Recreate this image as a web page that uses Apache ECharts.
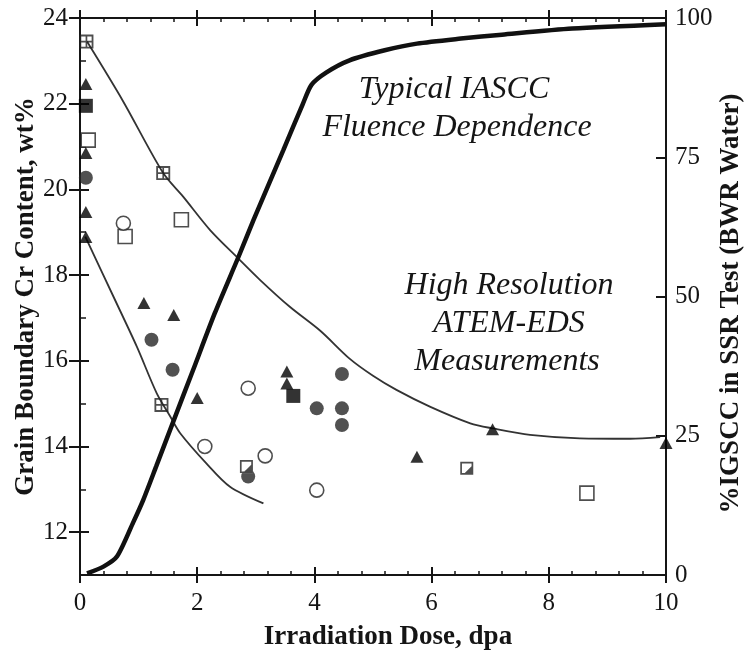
<!DOCTYPE html>
<html><head><meta charset="utf-8">
<script src="https://cdn.jsdelivr.net/npm/echarts@6/dist/echarts.min.js"></script>
<style>html,body{margin:0;padding:0;background:#fff}#c{width:744px;height:651px}</style>
</head><body><div id="c"></div>
<script>
// ---- tick values ----
const xTicksInterval = 2;
const leftTicks = [12, 14, 16, 18, 20, 22, 24];
const leftMinor = [13, 15, 17, 19, 21, 23];
const rightTicks = [0, 25, 50, 75, 100];

// ---- curves (x = dose dpa, y = Cr wt% or %IGSCC) ----
const upperCurve = [[0.12, 23.45], [0.73, 22.07], [1.42, 20.38], [1.76, 19.83], [2.22, 19.05], [2.7, 18.39], [3.07, 17.89], [3.58, 17.26], [4.1, 16.7], [4.6, 16.05], [5.0, 15.65], [5.4, 15.32], [5.97, 14.93], [6.66, 14.54], [7.05, 14.42], [7.68, 14.27], [8.53, 14.19], [9.39, 14.18], [9.9, 14.22]];
const lowerCurve = [[0.09, 18.9], [0.57, 17.5], [0.97, 16.33], [1.31, 15.24], [1.54, 14.7], [1.71, 14.31], [2.16, 13.6], [2.56, 13.06], [3.13, 12.67]];
const iasccCurve = [[0.12, 0.3], [0.4, 1.5], [0.63, 3.3], [0.91, 9.5], [1.08, 13.5], [1.3, 19.5], [1.59, 27.5], [1.93, 36.8], [2.3, 47], [2.7, 57], [2.96, 63.7], [3.47, 76.3], [3.8, 84.5], [3.95, 88], [4.2, 90.2], [4.6, 92.4], [5.2, 94.2], [5.75, 95.4], [6.5, 96.3], [7.2, 97], [8.4, 98.1], [10.0, 98.9]];

// ---- measurements (dose, Cr wt%) ----
const filledTriangles = [[0.1, 22.46], [0.1, 20.85], [0.1, 19.47], [0.1, 18.89], [1.09, 17.35], [1.6, 17.07], [2.0, 15.13], [3.53, 15.75], [3.53, 15.47], [5.75, 13.76], [7.04, 14.4], [10.0, 14.08]];
const filledCircles = [[0.1, 20.27], [1.22, 16.49], [1.58, 15.79], [2.87, 13.3], [4.47, 15.69], [4.04, 14.89], [4.47, 14.89], [4.47, 14.5]];
const filledSquares = [[0.1, 21.95], [3.64, 15.18]];
const openSquares = [[0.14, 21.15], [0.77, 18.9], [1.73, 19.29], [8.65, 12.91]];
const openCircles = [[0.74, 19.21], [2.87, 15.36], [2.13, 14.0], [3.16, 13.78], [4.04, 12.98]];
const crossedSquares = [[0.11, 23.45], [1.42, 20.38], [1.39, 14.97]];
const halfSquares = [[2.84, 13.53], [6.6, 13.49]];

const FONT = '"Liberation Serif", "Times New Roman", serif';
const INK = '#151515';

const crossPath = 'path://M0,0 L10,0 L10,10 L0,10 Z M1.3,1.3 L1.3,8.7 L8.7,8.7 L8.7,1.3 Z M4.4,1.3 L5.6,1.3 L5.6,8.7 L4.4,8.7 Z M1.3,4.4 L8.7,4.4 L8.7,5.6 L1.3,5.6 Z';
const halfPath = 'path://M0,0 L10,0 L10,10 L0,10 Z M1.3,1.3 L1.3,8.7 L8.7,8.7 L8.7,1.3 Z M8.7,3.5 L8.7,8.7 L3.5,8.7 Z';

const chart = echarts.init(document.getElementById('c'), null, {renderer: 'canvas'});

const AXL = {color: INK, width: 2};
const gridRect = {left: 80, right: 78, top: 18, bottom: 76, containLabel: false, outerBoundsMode: 'none'};

function xAx(grid, pos, inside, len, showLine, extra) {
  return Object.assign({
    type: 'value', gridIndex: grid, position: pos, min: 0, max: 10, interval: xTicksInterval,
    axisLine: {show: showLine, onZero: false, lineStyle: AXL},
    axisTick: {show: true, inside: inside, length: len, lineStyle: {color: INK, width: 2}},
    axisLabel: {show: false},
    splitLine: {show: false}
  }, extra || {});
}
const minor = {show: true, splitNumber: 5, length: 4, lineStyle: {color: INK, width: 1.5}};
const nameStyle = {fontFamily: FONT, fontSize: 27, fontWeight: 'bold', color: INK};
const labelStyle = {fontFamily: FONT, fontSize: 25, color: INK};

const option = {
  animation: false,
  backgroundColor: '#fff',
  grid: [gridRect, gridRect, gridRect, gridRect],
  xAxis: [
    xAx(0, 'bottom', false, 8, true, {
      axisLabel: Object.assign({show: true, margin: 16}, labelStyle),
      name: 'Irradiation Dose, dpa', nameLocation: 'middle', nameGap: 49, nameMoveOverlap: false,
      nameTextStyle: Object.assign({padding: [0, 0, 0, 30]}, nameStyle)
    }),
    xAx(1, 'bottom', true, 8, false, {minorTick: minor}),
    xAx(2, 'top', true, 8, true, {minorTick: minor}),
    xAx(3, 'top', false, 8, false, {})
  ],
  yAxis: [
    {
      type: 'value', gridIndex: 0, position: 'left', min: 11, max: 24,
      axisLine: {show: true, onZero: false, lineStyle: AXL},
      axisTick: {show: true, inside: false, length: 11, customValues: leftTicks, lineStyle: {color: INK, width: 2}},
      axisLabel: Object.assign({show: true, customValues: leftTicks, margin: 12}, labelStyle),
      splitLine: {show: false},
      name: 'Grain Boundary Cr Content, wt%', nameLocation: 'middle', nameGap: 40, nameMoveOverlap: false,
      nameTextStyle: nameStyle
    },
    {
      type: 'value', gridIndex: 1, position: 'left', min: 11, max: 24,
      axisLine: {show: false},
      axisTick: {show: true, inside: true, length: 9, customValues: leftTicks, lineStyle: {color: INK, width: 2}},
      axisLabel: {show: false}, splitLine: {show: false}
    },
    {
      type: 'value', gridIndex: 2, position: 'left', min: 11, max: 24,
      axisLine: {show: false},
      axisTick: {show: true, inside: true, length: 6, customValues: leftMinor, lineStyle: {color: INK, width: 1.5}},
      axisLabel: {show: false}, splitLine: {show: false}
    },
    {
      type: 'value', gridIndex: 3, position: 'right', min: 0, max: 100, interval: 25,
      axisLine: {show: true, onZero: false, lineStyle: AXL},
      axisTick: {show: true, inside: true, length: 10, customValues: rightTicks, lineStyle: {color: INK, width: 2}},
      axisLabel: Object.assign({show: true, customValues: rightTicks, margin: 9}, labelStyle),
      splitLine: {show: false},
      name: '%IGSCC in SSR Test (BWR Water)', nameLocation: 'middle', nameGap: 52, nameMoveOverlap: false,
      nameTextStyle: Object.assign({padding: [0, 14, 0, 0]}, nameStyle)
    }
  ],
  graphic: [
    {type: 'text', x: 454, y: 90, style: {text: 'Typical IASCC', font: 'italic 32px ' + FONT, fill: INK, textAlign: 'center', textVerticalAlign: 'middle'}},
    {type: 'text', x: 457, y: 128, style: {text: 'Fluence Dependence', font: 'italic 32px ' + FONT, fill: INK, textAlign: 'center', textVerticalAlign: 'middle'}},
    {type: 'text', x: 509, y: 286, style: {text: 'High Resolution', font: 'italic 32px ' + FONT, fill: INK, textAlign: 'center', textVerticalAlign: 'middle'}},
    {type: 'text', x: 509, y: 324, style: {text: 'ATEM-EDS', font: 'italic 32px ' + FONT, fill: INK, textAlign: 'center', textVerticalAlign: 'middle'}},
    {type: 'text', x: 507, y: 362, style: {text: 'Measurements', font: 'italic 32px ' + FONT, fill: INK, textAlign: 'center', textVerticalAlign: 'middle'}}
  ],
  series: [
    {type: 'line', xAxisIndex: 0, yAxisIndex: 0, data: upperCurve, smooth: 0.3, showSymbol: false, symbol: 'none', lineStyle: {color: '#333', width: 1.8}, z: 2},
    {type: 'line', xAxisIndex: 0, yAxisIndex: 0, data: lowerCurve, smooth: 0.3, showSymbol: false, symbol: 'none', lineStyle: {color: '#333', width: 1.8}, z: 2},
    {type: 'line', xAxisIndex: 3, yAxisIndex: 3, data: iasccCurve, smooth: 0.25, showSymbol: false, symbol: 'none', lineStyle: {color: '#111', width: 4.5}, z: 3},
    {type: 'scatter', xAxisIndex: 0, yAxisIndex: 0, data: openSquares, symbol: 'rect', symbolSize: 14, itemStyle: {color: '#fff', borderColor: '#222', borderWidth: 1.6}, z: 5},
    {type: 'scatter', xAxisIndex: 0, yAxisIndex: 0, data: openCircles, symbol: 'circle', symbolSize: 14, itemStyle: {color: '#fff', borderColor: '#222', borderWidth: 1.6}, z: 5},
    {type: 'scatter', xAxisIndex: 0, yAxisIndex: 0, data: crossedSquares, symbol: crossPath, symbolSize: 14, itemStyle: {color: '#222'}, z: 5},
    {type: 'scatter', xAxisIndex: 0, yAxisIndex: 0, data: filledCircles, symbol: 'circle', symbolSize: 14, itemStyle: {color: '#262626'}, z: 5},
    {type: 'scatter', xAxisIndex: 0, yAxisIndex: 0, data: halfSquares, symbol: 'rect', symbolSize: 13, itemStyle: {color: '#fff'}, z: 6},
    {type: 'scatter', xAxisIndex: 0, yAxisIndex: 0, data: halfSquares, symbol: halfPath, symbolSize: 13, itemStyle: {color: '#222'}, z: 7},
    {type: 'scatter', xAxisIndex: 0, yAxisIndex: 0, data: filledSquares, symbol: 'rect', symbolSize: 14, itemStyle: {color: '#000'}, z: 5},
    {type: 'scatter', xAxisIndex: 0, yAxisIndex: 0, data: filledTriangles, symbol: 'triangle', symbolSize: [13, 12], itemStyle: {color: '#000'}, z: 5}
  ]
};
chart.setOption(option);
</script>
</body></html>
